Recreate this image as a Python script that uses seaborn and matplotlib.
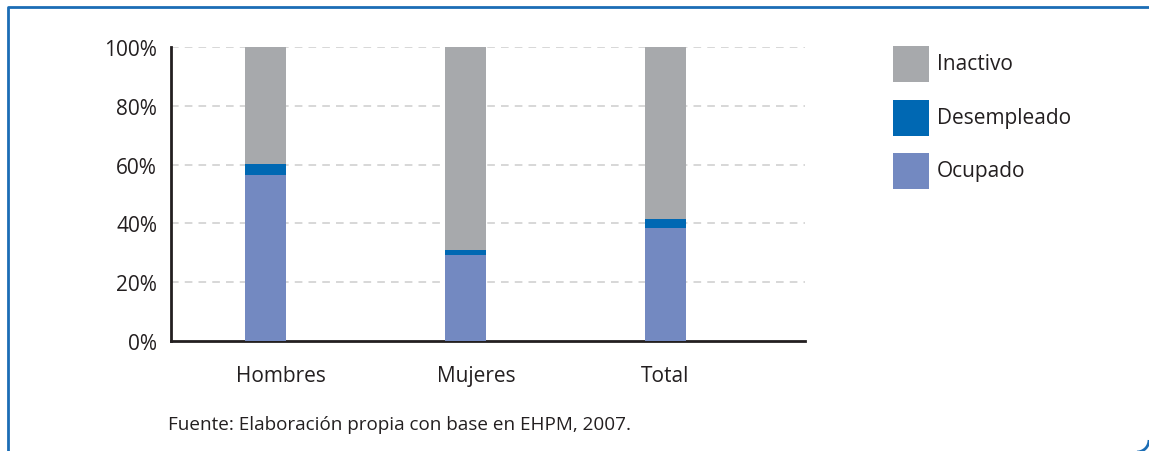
import pandas as pd
import matplotlib.pyplot as plt
import seaborn as sns
from matplotlib.patches import Rectangle, Arc
from matplotlib.lines import Line2D
from matplotlib.transforms import ScaledTranslation

# Datos (% de la población) por sexo
categorias = ["Hombres", "Mujeres", "Total"]
ocupado = [56.3, 29.4, 38.5]
desempleado = [4.0, 1.6, 3.1]
inactivo = [39.7, 69.0, 58.4]
series = ["Inactivo", "Desempleado", "Ocupado"]
colores = {"Inactivo": "#A7A9AC", "Desempleado": "#0068B3", "Ocupado": "#7389C1"}
ticks_y = [0, 20, 40, 60, 80, 100]
fuente = "Fuente: Elaboración propia con base en EHPM, 2007."

df = pd.DataFrame({"Categoria": categorias, "Ocupado": ocupado,
                   "Desempleado": desempleado, "Inactivo": inactivo})
df["top_ocupado"] = df["Ocupado"]
df["top_desempleado"] = df["Ocupado"] + df["Desempleado"]
df["top_inactivo"] = df["top_desempleado"] + df["Inactivo"]

sns.set_style("white")
plt.rcParams["font.family"] = ["Open Sans", "DejaVu Sans"]
txt = "#231F20"

W, H = 1149, 452
fig = plt.figure(figsize=(W / 100, H / 100), dpi=100)
ax = fig.add_axes([171 / W, 1 - 342 / H, (805 - 171) / W, (342 - 48) / H])

# barras apiladas: se dibuja de la capa superior a la inferior
for col, serie in [("top_inactivo", "Inactivo"), ("top_desempleado", "Desempleado"),
                   ("top_ocupado", "Ocupado")]:
    sns.barplot(data=df, x="Categoria", y=col, color=colores[serie], width=0.205,
                saturation=1, linewidth=0, ax=ax, zorder=3)

ax.set_xlim(-0.4725, 2.7)
ax.set_ylim(0, 100)
ax.set_yticks(ticks_y)
ax.set_yticklabels([f"{t}%" for t in ticks_y])
for t in ticks_y[1:]:
    ax.axhline(t, color="#CDCDCD", lw=1.1, ls=(0, (5, 4)), zorder=1)
ax.set_xlabel("")
ax.set_ylabel("")
ax.tick_params(axis="both", length=0, labelsize=15, colors=txt)
ax.tick_params(axis="y", pad=10)
ax.tick_params(axis="x", pad=17)
for lab, dx in zip(ax.get_xticklabels(), [16, 11, 0]):
    lab.set_transform(lab.get_transform() + ScaledTranslation(dx / 100, 0, fig.dpi_scale_trans))

for s in ["top", "right"]:
    ax.spines[s].set_visible(False)
for s in ["left", "bottom"]:
    ax.spines[s].set_color("#231F20")
    ax.spines[s].set_linewidth(2)

# leyenda
for i, serie in enumerate(series):
    y0 = 47 + i * 53.5
    fig.add_artist(Rectangle((893 / W, 1 - (y0 + 36) / H), 36 / W, 36 / H,
                             transform=fig.transFigure, color=colores[serie], lw=0))
    fig.text(937 / W, 1 - (y0 + 18) / H, serie, fontsize=15, color=txt,
             va="center", ha="left")

fig.text(168 / W, 1 - 425 / H, fuente, fontsize=13.6, color=txt, va="center", ha="left")

# marco
borde = "#1B6DB5"
fig.add_artist(Line2D([8 / W, 8 / W, 1.0], [0, 1 - 8 / H, 1 - 8 / H],
                      transform=fig.transFigure, color=borde, lw=2))
fig.add_artist(Arc((1137 / W, 1 - 441 / H), 24 / W, 24 / H, theta1=270, theta2=360,
                   transform=fig.transFigure, color=borde, lw=2))

fig.savefig("out.png", dpi=100)
